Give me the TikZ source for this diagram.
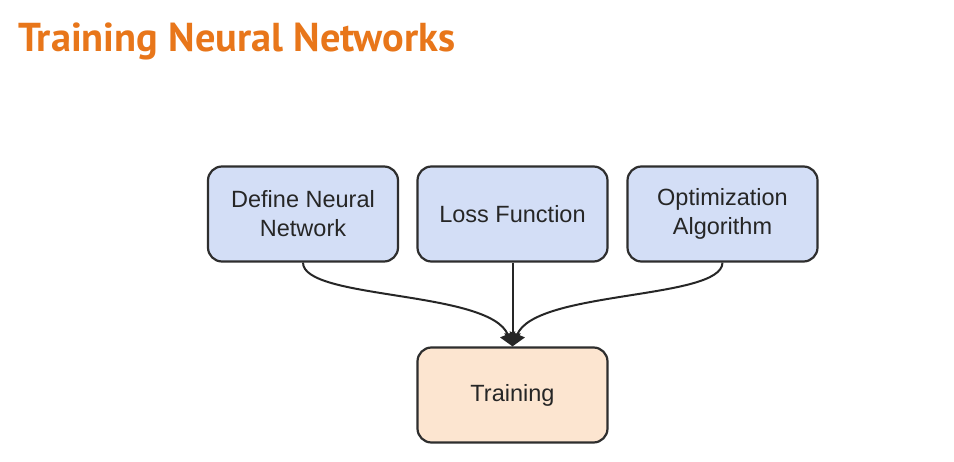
\documentclass[tikz,border=0pt]{standalone}
\usepackage{fontspec}
\setmainfont{Liberation Sans}
\newfontfamily\titlefont{PT Sans}
\usetikzlibrary{arrows.meta}
\definecolor{titleorange}{HTML}{E8761A}
\definecolor{boxblue}{HTML}{D3DEF6}
\definecolor{boxpeach}{HTML}{FCE5D0}
\definecolor{boxline}{HTML}{2E2E2E}
\tikzset{
  stepbox/.style={draw=boxline, line width=2.2pt, rounded corners=14pt, minimum width=190pt, minimum height=95pt, align=center, font=\fontsize{23.5}{29}\selectfont, text=black!85},
  bluebox/.style={stepbox, fill=boxblue},
  peachbox/.style={stepbox, fill=boxpeach},
  conn/.style={draw=black!85, line width=2pt, -{Triangle[length=13pt,width=16pt]}}
}
\begin{document}
\begin{tikzpicture}[x=1pt,y=-1pt]
\useasboundingbox (0,0) rectangle (954,462);
\fill[white] (0,0) rectangle (954,462);
\node[anchor=base west, inner sep=0pt, text=titleorange] (title) at (18,52)
  {\resizebox{437pt}{!}{\titlefont\bfseries Training Neural Networks}};
\node[bluebox] (define) at (303,214) {Define Neural\\Network};
\node[bluebox] (loss) at (512.5,214) {Loss Function};
\node[bluebox] (optim) at (722.5,214) {Optimization\\Algorithm};
\node[peachbox] (train) at (512.5,395) {Training};
\draw[conn] (define.south) .. controls (303,300) and (490,290) .. (train.north);
\draw[conn] (optim.south) .. controls (722,300) and (535,290) .. (train.north);
\draw[conn] (loss.south) -- (train.north);
\end{tikzpicture}
\end{document}
